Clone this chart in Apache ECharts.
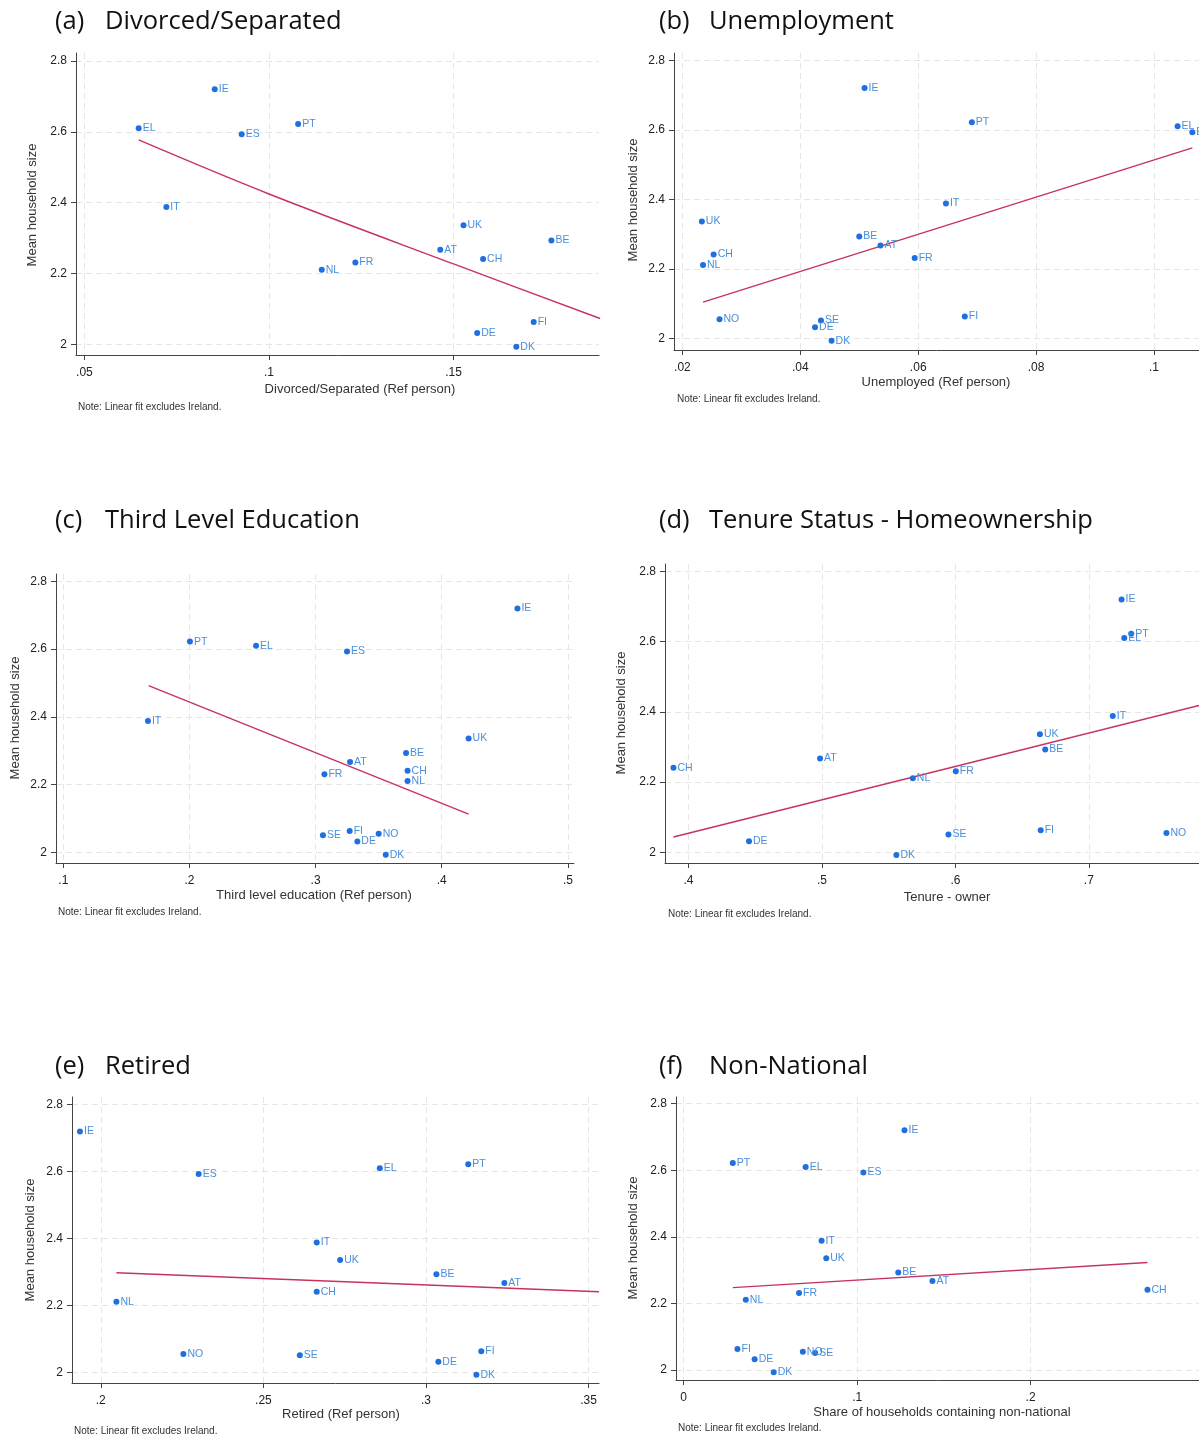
<!DOCTYPE html>
<html><head><meta charset="utf-8">
<script src="https://cdn.jsdelivr.net/npm/echarts@6/dist/echarts.min.js"></script>
<style>html,body{margin:0;padding:0;background:#fff}#c{width:1199px;height:1440px}</style>
</head><body><div id="c"></div>
<script>
// ---------- data ----------
const countries = ['IE','PT','EL','ES','IT','UK','BE','AT','CH','FR','NL','FI','NO','SE','DE','DK'];
const householdSize = [2.72, 2.622, 2.61, 2.593, 2.388, 2.336, 2.293, 2.267, 2.241, 2.231, 2.211, 2.063, 2.055, 2.051, 2.032, 1.993];

const divorcedSeparated = [0.0853, 0.1079, 0.0647, 0.0926, 0.0722, 0.1527, 0.1765, 0.1464, 0.158, 0.1234, 0.1143, 0.1717, null, null, 0.1564, 0.167];
const unemployed        = [0.0509, 0.0691, 0.104, 0.1065, 0.0647, 0.0233, 0.050, 0.0536, 0.0253, 0.0594, 0.0235, 0.0679, 0.0263, 0.0435, 0.0425, 0.0453];
const thirdLevel        = [0.460, 0.2004, 0.2528, 0.3249, 0.1671, 0.4213, 0.3717, 0.3273, 0.3729, 0.307, 0.3729, 0.327, 0.350, 0.3058, 0.3331, 0.3556];
const tenureOwner       = [0.7245, 0.7317, 0.7265, null, 0.7179, 0.6633, 0.6673, 0.4986, 0.3888, 0.6003, 0.5681, 0.6639, 0.7581, 0.5948, 0.4454, 0.5558];
const retired           = [0.1936, 0.313, 0.2858, 0.2301, 0.2664, 0.2736, 0.3032, 0.3241, 0.2664, 0.3535, 0.2048, 0.317, 0.2254, 0.2612, 0.3038, 0.3155];
const nonNational       = [0.1273, 0.0283, 0.0703, 0.1036, 0.0795, 0.0822, 0.1237, 0.1434, 0.2674, 0.0665, 0.0358, 0.031, 0.0687, 0.0758, 0.0409, 0.0519];

// linear-fit lines (excluding Ireland)
const fitDivorced    = [[0.0647, 2.577], [0.1, 2.4245], [0.15, 2.227], [0.1897, 2.073]];
const fitUnemployed  = [[0.0235, 2.104], [0.1065, 2.548]];
const fitThirdLevel  = [[0.1676, 2.492], [0.4213, 2.113]];
const fitTenure      = [[0.3888, 2.044], [0.7825, 2.418]];
const fitRetired     = [[0.2048, 2.298], [0.3532, 2.241]];
const fitNonNational = [[0.0283, 2.2475], [0.2674, 2.3227]];

const yTicks = [2, 2.2, 2.4, 2.6, 2.8];
const xTicksA = [0.05, 0.1, 0.15];
const xTicksB = [0.02, 0.04, 0.06, 0.08, 0.1];
const xTicksC = [0.1, 0.2, 0.3, 0.4, 0.5];
const xTicksD = [0.4, 0.5, 0.6, 0.7];
const xTicksE = [0.2, 0.25, 0.3, 0.35];
const xTicksF = [0, 0.1, 0.2];

const panelLetters = ['(a)', '(b)', '(c)', '(d)', '(e)', '(f)'];
const panelTitles = ['Divorced/Separated', 'Unemployment', 'Third Level Education', 'Tenure Status - Homeownership', 'Retired', 'Non-National'];
const xTitles = ['Divorced/Separated (Ref person)', 'Unemployed (Ref person)', 'Third level education (Ref person)', 'Tenure - owner', 'Retired (Ref person)', 'Share of households containing non-national'];
const yTitle = 'Mean household size';
const noteText = 'Note: Linear fit excludes Ireland.';

// ---------- layout ----------
const panels = [
  {x: divorcedSeparated, fit: fitDivorced, ticks: xTicksA, smooth: 0.35,
   grid: {left: 76, top: 53, width: 523, height: 302}, xr: [0.04772, 0.1894], yr: [1.970, 2.8225],
   title: [55, 22], ytitle: [32, 205], xtitle: [360, 389], note: [78, 407], hide: []},
  {x: unemployed, fit: fitUnemployed, ticks: xTicksB, smooth: false,
   grid: {left: 674, top: 53, width: 525, height: 297}, xr: [0.018575, 0.10763], yr: [1.9664, 2.821],
   title: [659, 22], ytitle: [633, 200], xtitle: [936, 382], note: [677, 399], hide: []},
  {x: thirdLevel, fit: fitThirdLevel, ticks: xTicksC, smooth: false,
   grid: {left: 56, top: 574, width: 518, height: 289}, xr: [0.09421, 0.50484], yr: [1.9688, 2.8215],
   title: [55, 521], ytitle: [15, 718], xtitle: [314, 895], note: [58, 912], hide: []},
  {x: tenureOwner, fit: fitTenure, ticks: xTicksD, smooth: false,
   grid: {left: 665, top: 564, width: 534, height: 299}, xr: [0.38246, 0.7825], yr: [1.9699, 2.8208],
   title: [659, 521], ytitle: [621, 713], xtitle: [947, 897], note: [668, 914], hide: []},
  {x: retired, fit: fitRetired, ticks: xTicksE, smooth: false,
   grid: {left: 72, top: 1097, width: 527, height: 286}, xr: [0.19115, 0.3532], yr: [1.9683, 2.823],
   title: [55, 1067], ytitle: [30, 1240], xtitle: [341, 1414], note: [74, 1431], hide: ['FR']},
  {x: nonNational, fit: fitNonNational, ticks: xTicksF, smooth: false,
   grid: {left: 676, top: 1097, width: 523, height: 283}, xr: [-0.00444, 0.2971], yr: [1.970, 2.820],
   title: [659, 1067], ytitle: [633, 1238], xtitle: [942, 1412], note: [678, 1428], hide: []}
];

const AXIS_FONT = '"Liberation Sans", Arial, sans-serif';
const TITLE_FONT = '"Open Sans", "Noto Sans", sans-serif';
const fmt = v => {
  if (v === 0) return '0';
  let s = String(Math.round(v * 1000) / 1000);
  return s.replace(/^0\./, '.');
};

const grids = [], xAxes = [], yAxes = [], series = [], graphics = [];
panels.forEach((p, i) => {
  grids.push(Object.assign({containLabel: false, outerBoundsMode: 'none'}, p.grid));
  const common = {
    type: 'value', gridIndex: i,
    axisLine: {show: true, onZero: false, lineStyle: {color: '#444', width: 1}},
    axisTick: {show: true, inside: false, length: 5, lineStyle: {color: '#444'}},
    splitLine: {show: true, lineStyle: {color: '#e6e6e6', type: [6, 4], width: 1}},
    axisLabel: {color: '#222', fontSize: 12, fontFamily: AXIS_FONT, formatter: fmt}
  };
  xAxes.push(Object.assign({}, common, {
    min: p.xr[0], max: p.xr[1],
    axisTick: Object.assign({}, common.axisTick, {customValues: p.ticks}),
    axisLabel: Object.assign({}, common.axisLabel, {customValues: p.ticks, margin: 12})
  }));
  yAxes.push(Object.assign({}, common, {
    min: p.yr[0], max: p.yr[1],
    axisTick: Object.assign({}, common.axisTick, {customValues: yTicks}),
    axisLabel: Object.assign({}, common.axisLabel, {customValues: yTicks, margin: 9})
  }));
  const pts = [];
  countries.forEach((c, k) => {
    if (p.x[k] == null) return;
    const item = {name: c, value: [p.x[k], householdSize[k]]};
    if (p.hide.indexOf(c) >= 0) item.label = {show: false};
    pts.push(item);
  });
  series.push({
    type: 'line', xAxisIndex: i, yAxisIndex: i, data: p.fit, smooth: p.smooth,
    showSymbol: false, symbol: 'none', clip: true, silent: true, z: 2,
    lineStyle: {color: '#c8325f', width: 1.4}
  });
  series.push({
    type: 'scatter', xAxisIndex: i, yAxisIndex: i, data: pts, clip: true, z: 3,
    symbol: 'circle', symbolSize: 6,
    itemStyle: {color: '#1f6fe0', opacity: 1},
    label: {show: true, position: 'right', distance: 1, formatter: '{b}',
            color: '#4b8fd8', fontSize: 10.5, fontFamily: AXIS_FONT},
    emphasis: {disabled: true}
  });
  graphics.push({type: 'text', x: p.title[0], y: p.title[1],
    style: {text: panelLetters[i], font: '25.5px ' + TITLE_FONT, fill: '#111', verticalAlign: 'middle'}});
  graphics.push({type: 'text', x: p.title[0] + 50, y: p.title[1],
    style: {text: panelTitles[i], font: '25.5px ' + TITLE_FONT, fill: '#111', verticalAlign: 'middle'}});
  graphics.push({type: 'text', x: p.ytitle[0], y: p.ytitle[1], rotation: Math.PI / 2,
    style: {text: yTitle, font: '13px ' + AXIS_FONT, fill: '#333', align: 'center', verticalAlign: 'middle'}});
  graphics.push({type: 'text', x: p.xtitle[0], y: p.xtitle[1],
    style: {text: xTitles[i], font: '13px ' + AXIS_FONT, fill: '#333', align: 'center', verticalAlign: 'middle'}});
  graphics.push({type: 'text', x: p.note[0], y: p.note[1],
    style: {text: noteText, font: '10px ' + AXIS_FONT, fill: '#333', verticalAlign: 'middle'}});
});

const chart = echarts.init(document.getElementById('c'), null, {renderer: 'canvas'});
chart.setOption({
  backgroundColor: '#fff',
  animation: false,
  grid: grids, xAxis: xAxes, yAxis: yAxes, series: series,
  graphic: graphics
});
</script>
</body></html>
